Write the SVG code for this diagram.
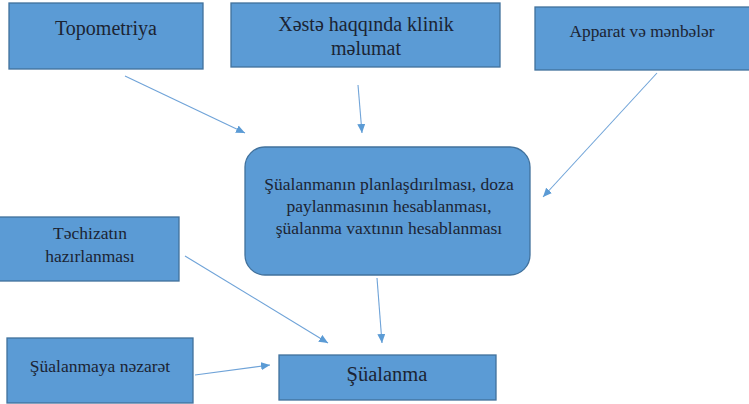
<svg xmlns="http://www.w3.org/2000/svg" width="749" height="404" viewBox="0 0 749 404">
<style>
.box{fill:#5B9BD5;stroke:#41719C;stroke-width:1.3}
.t{font-family:"Liberation Serif","DejaVu Serif",serif;fill:#1B2433;text-anchor:middle}
.c{stroke:#6FA3D8;stroke-width:1.1;fill:none;marker-end:url(#ah)}
</style>
<defs>
<marker id="ah" markerUnits="userSpaceOnUse" markerWidth="10" markerHeight="10" refX="9" refY="4" orient="auto">
<path d="M0,0 L9,4 L0,8 Z" fill="#5B9BD5"/>
</marker>
</defs>
<rect width="749" height="404" fill="#fff"/>
<g id="topometriya">
<rect class="box" x="9" y="3" width="194" height="66"/>
<text class="t" x="106" y="35" font-size="20">Topometriya</text>
</g>
<g id="xeste">
<rect class="box" x="231" y="3" width="269" height="64"/>
<text class="t" x="366" y="31" font-size="20">Xəstə haqqında klinik</text>
<text class="t" x="366" y="55" font-size="20">məlumat</text>
</g>
<g id="apparat">
<rect class="box" x="535" y="7" width="220" height="63"/>
<text class="t" x="642" y="37" font-size="17.3">Apparat və mənbələr</text>
</g>
<g id="planlasdirma">
<rect class="box" x="245" y="147" width="285" height="128" rx="20" ry="20"/>
<text class="t" x="389" y="190" font-size="17.5">Şüalanmanın planlaşdırılması, doza</text>
<text class="t" x="389" y="212" font-size="17.5">paylanmasının hesablanması,</text>
<text class="t" x="389" y="234" font-size="17.5">şüalanma vaxtının hesablanması</text>
</g>
<g id="techizat">
<rect class="box" x="-2" y="217" width="181" height="64"/>
<text class="t" x="90" y="239" font-size="17.5">Təchizatın</text>
<text class="t" x="90" y="262" font-size="17.5">hazırlanması</text>
</g>
<g id="nezaret">
<rect class="box" x="7" y="338" width="186" height="65"/>
<text class="t" x="100" y="372" font-size="17.5">Şüalanmaya nəzarət</text>
</g>
<g id="sualanma">
<rect class="box" x="279" y="355" width="217" height="45"/>
<text class="t" x="387" y="381" font-size="20.5">Şüalanma</text>
</g>
<g id="connectors">
<line class="c" x1="125" y1="76" x2="245" y2="133"/>
<line class="c" x1="358" y1="85" x2="362" y2="133"/>
<line class="c" x1="657" y1="73" x2="543" y2="197"/>
<line class="c" x1="185" y1="256" x2="328" y2="343"/>
<line class="c" x1="377" y1="278" x2="382" y2="343"/>
<line class="c" x1="195" y1="375" x2="270" y2="365"/>
</g>
</svg>
